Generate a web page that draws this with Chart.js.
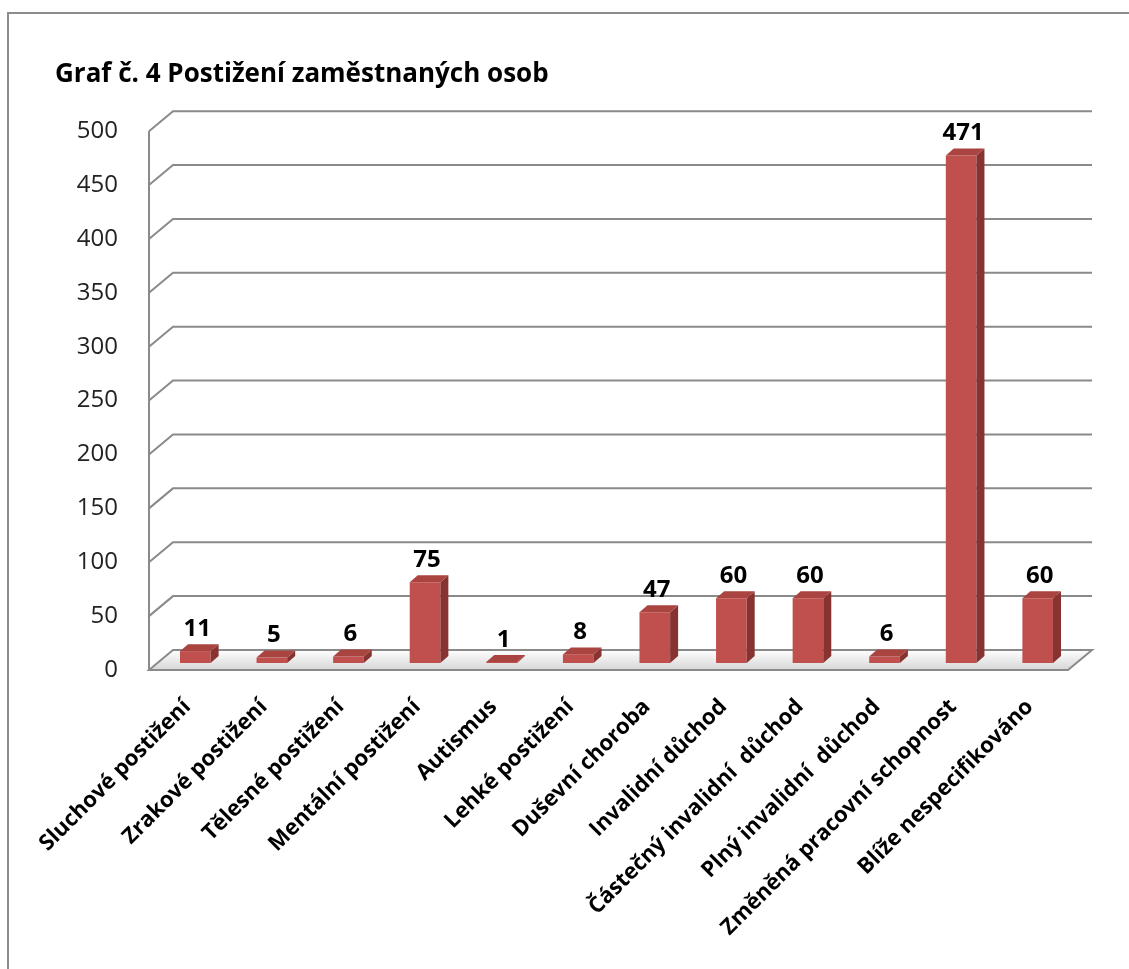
<!DOCTYPE html>
<html>
<head>
<meta charset="utf-8">
<script src="https://cdn.jsdelivr.net/npm/chart.js@4"></script>
<style>
  body { margin: 0; background: #fff; }
  #wrap { position: relative; width: 1129px; height: 969px; }
  #frame { position: absolute; left: 7px; top: 12px; right: 0; bottom: 0;
           border-top: 2px solid #8c8c8c; border-left: 2px solid #8c8c8c; }
  canvas { position: absolute; left: 0; top: 0; }
</style>
</head>
<body>
<div id="wrap">
  <div id="frame"></div>
  <canvas id="chart" width="1129" height="969"></canvas>
</div>
<script>
const categories = [
  'Sluchové postižení', 'Zrakové postižení', 'Tělesné postižení', 'Mentální postižení',
  'Autismus', 'Lehké postižení', 'Duševní choroba', 'Invalidní důchod',
  'Částečný invalidní  důchod', 'Plný invalidní  důchod', 'Změněná pracovní schopnost',
  'Blíže nespecifikováno'
];
const employed = [11, 5, 6, 75, 1, 8, 47, 60, 60, 6, 471, 60];
const chartTitle = 'Graf č. 4 Postižení zaměstnaných osob';

// 3d look: back wall offset, bar position inside the depth, bar depth
const WALL_DX = 24, WALL_DY = 20;
const SHIFT_X = 8, SHIFT_Y = 7;
const BAR_DX = 8, BAR_DY = 7;

const fake3d = {
  id: 'fake3d',
  beforeDatasetsDraw(chart) {
    const { ctx, chartArea: a, scales: { y } } = chart;
    const y0 = y.getPixelForValue(0);
    ctx.save();
    // floor
    const g = ctx.createLinearGradient(0, y0 - WALL_DY, 0, y0);
    g.addColorStop(0, '#ffffff');
    g.addColorStop(1, '#d6d6d6');
    ctx.beginPath();
    ctx.moveTo(a.left, y0);
    ctx.lineTo(a.right, y0);
    ctx.lineTo(a.right + WALL_DX, y0 - WALL_DY);
    ctx.lineTo(a.left + WALL_DX, y0 - WALL_DY);
    ctx.closePath();
    ctx.fillStyle = g;
    ctx.fill();
    ctx.strokeStyle = '#8a8a8a';
    ctx.lineWidth = 2;
    ctx.stroke();
    // grid on the back wall
    ctx.beginPath();
    y.ticks.forEach(t => {
      if (t.value === 0) return;
      const py = y.getPixelForValue(t.value);
      ctx.moveTo(a.left, py);
      ctx.lineTo(a.left + WALL_DX, py - WALL_DY);
      ctx.lineTo(a.right + WALL_DX, py - WALL_DY);
    });
    ctx.moveTo(a.left, y0);
    ctx.lineTo(a.left, y.getPixelForValue(y.max));
    ctx.stroke();
    ctx.restore();

    ctx.save();
    ctx.translate(SHIFT_X, -SHIFT_Y);
  },
  afterDatasetsDraw(chart) {
    const { ctx } = chart;
    const meta = chart.getDatasetMeta(0);
    meta.data.forEach((bar, i) => {
      const { x, y, base, width } = bar.getProps(['x', 'y', 'base', 'width'], true);
      const l = x - width / 2, r = x + width / 2;
      // side
      ctx.beginPath();
      ctx.moveTo(r, base);
      ctx.lineTo(r, y);
      ctx.lineTo(r + BAR_DX, y - BAR_DY);
      ctx.lineTo(r + BAR_DX, base - BAR_DY);
      ctx.closePath();
      ctx.fillStyle = '#873331';
      ctx.fill();
      // top
      ctx.beginPath();
      ctx.moveTo(l, y);
      ctx.lineTo(r, y);
      ctx.lineTo(r + BAR_DX, y - BAR_DY);
      ctx.lineTo(l + BAR_DX, y - BAR_DY);
      ctx.closePath();
      ctx.fillStyle = '#a94441';
      ctx.fill();
      // value label
      ctx.fillStyle = '#000';
      ctx.font = 'bold 24px "Open Sans"';
      ctx.textAlign = 'center';
      ctx.textBaseline = 'middle';
      ctx.fillText(employed[i], x + 2, y - 22);
    });
    ctx.restore();
  }
};

new Chart(document.getElementById('chart'), {
  type: 'bar',
  data: {
    labels: categories,
    datasets: [{
      data: employed,
      backgroundColor: '#c0504d',
      barPercentage: 0.4,
      categoryPercentage: 1,
      clip: false
    }]
  },
  options: {
    responsive: false,
    animation: false,
    layout: { padding: { left: 55, right: 61, top: 0, bottom: 0 } },
    plugins: {
      legend: { display: false },
      tooltip: { enabled: false },
      title: {
        display: true,
        text: chartTitle,
        align: 'start',
        color: '#000',
        font: { family: 'Open Sans', size: 26, weight: 'bold' },
        padding: { top: 59, bottom: 41 }
      }
    },
    scales: {
      x: {
        grid: { display: false, drawTicks: false },
        border: { display: false },
        afterFit: s => { s.height = 299; },
        ticks: {
          autoSkip: false,
          minRotation: 45,
          maxRotation: 45,
          padding: 24,
          color: '#000',
          font: { family: 'Open Sans', size: 22, weight: 'bold' }
        }
      },
      y: {
        min: 0,
        max: 500,
        grid: { display: false, drawTicks: false },
        border: { display: false },
        afterFit: s => { s.width = 94; },
        ticks: {
          stepSize: 50,
          padding: 31,
          color: '#222',
          font: { family: 'Open Sans', size: 24 }
        }
      }
    }
  },
  plugins: [fake3d]
});
</script>
</body>
</html>
